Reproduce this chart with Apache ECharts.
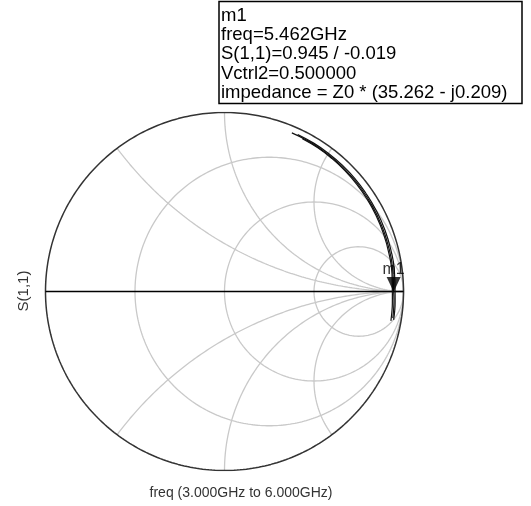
<!DOCTYPE html>
<html>
<head>
<meta charset="utf-8">
<script src="https://cdn.jsdelivr.net/npm/echarts@6/dist/echarts.min.js"></script>
<style>
  html, body { margin: 0; padding: 0; background: #fff; }
  #chart { width: 531px; height: 506px; }
</style>
</head>
<body>
<div id="chart"></div>
<script>
// Smith chart grid values (normalised impedance)
const resistanceCircles = [1 / 3, 1, 3];
const reactanceArcs = [0.5, 1, 2];

// S(1,1) sweep, 3 GHz to 6 GHz, one trace per Vctrl2 setting
const freqGHz = [3.0, 3.25, 3.5, 3.75, 4.0, 4.25, 4.5, 4.75, 5.0, 5.25, 5.462, 5.6, 5.8, 6.0];
const traceMag = [
  [0.963, 0.962, 0.960, 0.959, 0.957, 0.956, 0.954, 0.952, 0.950, 0.948, 0.945, 0.948, 0.950, 0.952],
  [0.968, 0.967, 0.966, 0.965, 0.964, 0.962, 0.961, 0.960, 0.958, 0.956, 0.953, 0.955, 0.957, 0.958],
  [0.958, 0.957, 0.955, 0.953, 0.951, 0.949, 0.947, 0.945, 0.943, 0.941, 0.938, 0.940, 0.942, 0.944]
];
const tracePhaseDeg = [
  [67, 61, 55, 49, 43, 37, 30, 23, 16, 8, -0.019, -3, -6, -9],
  [65, 59, 53, 47, 41, 35, 28, 21, 14, 7, -0.5, -3.5, -6.5, -9.5],
  [63, 57, 51, 45, 39, 33, 27, 20, 13, 6, -1, -4, -7, -10]
];

// Marker m1
const markerMag = 0.945;
const markerPhaseDeg = -0.019;
const markerLines = [
  'm1',
  'freq=5.462GHz',
  'S(1,1)=0.945 / -0.019',
  'Vctrl2=0.500000',
  'impedance = Z0 * (35.262 - j0.209)'
];

const xLabel = 'freq (3.000GHz to 6.000GHz)';
const yLabel = 'S(1,1)';

// z -> gamma
function gammaOf(r, x) {
  const dr = r + 1;
  const den = dr * dr + x * x;
  const nr = r - 1;
  return [(nr * dr + x * x) / den, (x * dr - nr * x) / den];
}

function resistancePath(r) {
  const pts = [];
  const c = r / (1 + r), rad = 1 / (1 + r);
  for (let i = 0; i <= 360; i++) {
    const a = i * Math.PI / 180;
    pts.push([c + rad * Math.cos(a), rad * Math.sin(a)]);
  }
  return pts;
}

function reactancePath(x) {
  const pts = [];
  const n = 600;
  for (let i = 0; i < n; i++) {
    const t = i / n;
    const r = t / (1 - t);
    pts.push(gammaOf(r, x));
  }
  pts.push([1, 0]);
  return pts;
}

function polar(mag, deg) {
  const a = deg * Math.PI / 180;
  return [mag * Math.cos(a), mag * Math.sin(a)];
}

const gridStyle = { color: '#c9c9c9', width: 1.3 };
const series = [];

resistanceCircles.forEach(r => {
  series.push({ type: 'line', data: resistancePath(r), showSymbol: false, silent: true,
    lineStyle: gridStyle, z: 1 });
});
reactanceArcs.forEach(x => {
  [x, -x].forEach(v => {
    series.push({ type: 'line', data: reactancePath(v), showSymbol: false, silent: true,
      lineStyle: gridStyle, z: 1 });
  });
});
// outer boundary |gamma| = 1
series.push({ type: 'line', data: resistancePath(0), showSymbol: false, silent: true,
  lineStyle: { color: '#333', width: 1.5 }, z: 2 });
// real axis
series.push({ type: 'line', data: [[-1, 0], [1, 0]], showSymbol: false, silent: true,
  lineStyle: { color: '#000', width: 1.3 }, z: 2 });

// traces
traceMag.forEach((mags, k) => {
  const pts = mags.map((m, i) => polar(m, tracePhaseDeg[k][i]));
  series.push({ type: 'line', data: pts, showSymbol: false, smooth: true, silent: true,
    lineStyle: { color: '#111', width: 1.2 }, z: 3 });
});

// marker
series.push({
  type: 'scatter',
  data: [polar(markerMag, markerPhaseDeg)],
  symbol: 'path://M0,0 L14,0 L7,15 Z',
  symbolSize: [14, 15],
  symbolOffset: [0, -7],
  itemStyle: { color: '#000' },
  label: { show: true, formatter: markerLines[0], position: 'top', distance: -1,
    color: '#000', fontSize: 16, fontFamily: 'Liberation Sans' },
  z: 5,
  silent: true
});

const legendText = markerLines.map((t, i) => ({
  type: 'text', x: 221, y: 6.5 + i * 19.2, z: 11,
  style: { text: t, fontSize: 18.5, fontFamily: 'Liberation Sans', fill: '#000',
    verticalAlign: 'top' }
}));

const chart = echarts.init(document.getElementById('chart'), null, { renderer: 'canvas' });
chart.setOption({
  animation: false,
  backgroundColor: '#fff',
  grid: { left: 45.5, top: 112.5, width: 358, height: 358 },
  xAxis: { type: 'value', min: -1, max: 1, show: false },
  yAxis: { type: 'value', min: -1, max: 1, show: false },
  series: series,
  graphic: [
    { type: 'rect', shape: { x: 219, y: 1.5, width: 303, height: 102 },
      style: { fill: '#fff', stroke: '#000', lineWidth: 1.5 }, z: 10 }
  ].concat(legendText, [
    { type: 'text', x: 24, y: 291, rotation: Math.PI / 2, z: 11,
      style: { text: yLabel, fontSize: 15, fontFamily: 'Liberation Sans', fill: '#333',
        align: 'center', verticalAlign: 'middle' } },
    { type: 'text', x: 241, y: 493, z: 11,
      style: { text: xLabel, fontSize: 14, fontFamily: 'Liberation Sans', fill: '#333',
        align: 'center', verticalAlign: 'middle' } }
  ])
});
</script>
</body>
</html>
